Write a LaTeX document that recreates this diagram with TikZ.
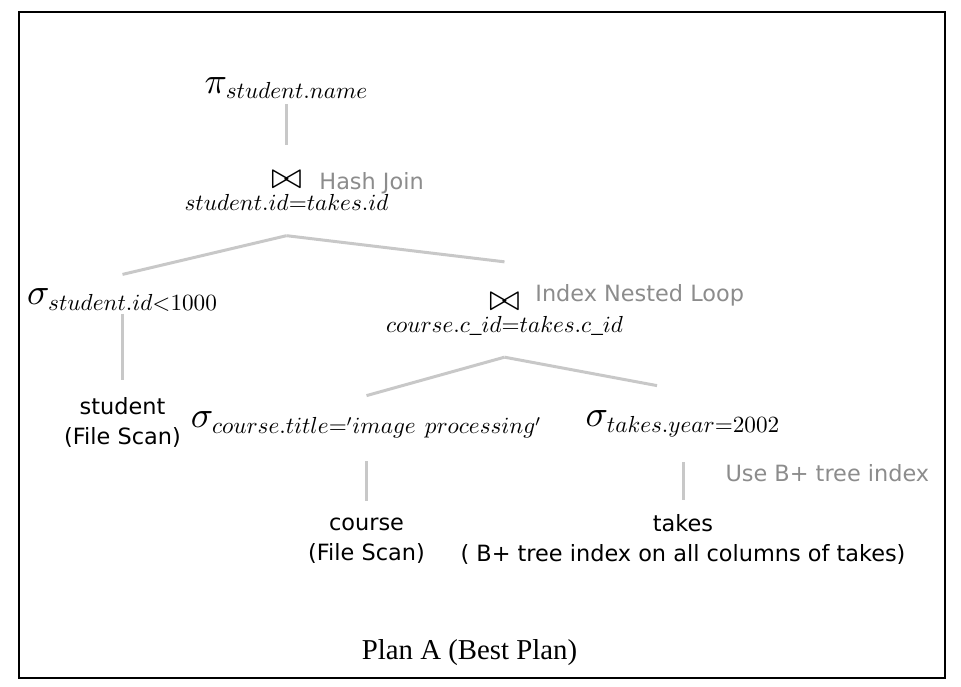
\RequirePackage{fix-cm}
\documentclass[tikz,border=0pt]{standalone}
\usepackage{amsmath}
\usepackage[no-math]{fontspec}
\setmainfont{Liberation Serif}
\setsansfont{DejaVu Sans}
\usetikzlibrary{trees}
% one design size for all math, scaled
\DeclareFontShape{OML}{cmm}{m}{it}{<-> cmmi10}{}
\DeclareFontShape{OT1}{cmr}{m}{n}{<-> cmr10}{}
\DeclareMathSizes{18.5}{18.5}{11.6}{8}

\definecolor{edgegray}{RGB}{200,200,200}
\definecolor{notegray}{RGB}{140,140,140}

\tikzset{
    op/.style={font=\fontsize{18.5}{22}\selectfont, inner sep=0pt},
    rel/.style={font=\sffamily\fontsize{11.2}{15}\selectfont, align=center, inner sep=0pt},
    note/.style={text=notegray, font=\sffamily\fontsize{11.2}{15}\selectfont, inner sep=0pt, anchor=base west},
    edge gaps/.style 2 args={edge from parent path={([yshift=-#1]\tikzparentnode.south) -- ([yshift=#2]\tikzchildnode.north)}},
}

\begin{document}
\begin{tikzpicture}
[
    x=0.5pt, y=-0.5pt,
    edge from parent/.style={draw=edgegray, line width=1.5pt},
    level 1/.style={grow via three points={one child at (0,105) and two children at (0,105) and (0,105)}},
    level 2/.style={grow via three points={one child at (0,107) and two children at (-164,107) and (218,123)}},
    level 3/.style={grow via three points={one child at (0,122) and two children at (-138,109) and (178.5,108)}},
    level 4/.style={grow via three points={one child at (0,115.5) and two children at (0,115.5) and (0,115.5)}},
]
\useasboundingbox (0,0) rectangle (961,686);
\draw[line width=1pt] (19,12) rectangle (945,678);

\node [op] (proj) at (286.5,88)
{$\pi_{student.name}$}
    child[edge gaps={2.5pt}{13pt}] {node[op, label={[note, xshift=16.25pt, yshift=-9pt]north:Hash Join}] (hashjoin)
{$\underset{student.id=takes.id}{\bowtie}$}
    child[edge gaps={10.5pt}{7pt}] {node[op] (selstudent)
{$\sigma_{student.id<1000}$}
    child[edge gaps={1pt}{8.5pt}] {node[rel] (student)
{student\\(File Scan)}
}}    child[edge gaps={10.5pt}{15.5pt}] {node[op, label={[note, xshift=15.25pt, yshift=-4.5pt]north:Index Nested Loop}] (nestedloop)
{$\underset{course.c\_id=takes.c\_id}{\bowtie}$}
    child[edge gaps={9pt}{8pt}] {node[op] (selcourse)
{$\sigma_{course.title='image\ processing'}$}
    child[edge gaps={11.5pt}{8pt}] {node[rel] (course)
{course\\(File Scan)}
}}    child[edge from parent path={([yshift=-9pt]\tikzparentnode.south) -- ([xshift=-13pt, yshift=12.5pt]\tikzchildnode.north)}] {node[op] (seltakes)
{$\sigma_{takes.year=2002}$}
    child[edge gaps={12.5pt}{7pt}] {node[rel] (takes)
{takes\\( B+ tree index on all columns of takes)}
    edge from parent node[note, midway, xshift=20.5pt] (btreenote) {Use B+ tree index}
}}}};

\node [font=\fontsize{14.4}{17}\selectfont] (caption) at (469.5,653) {Plan A (Best Plan)};
\end{tikzpicture}
\end{document}
